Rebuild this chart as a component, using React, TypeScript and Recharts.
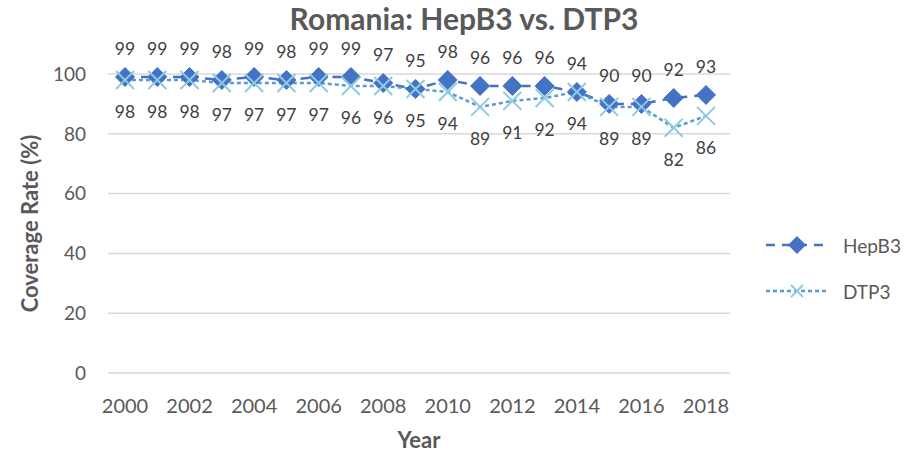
import React from "react";
import { LineChart, Line, XAxis, YAxis, CartesianGrid, LabelList, Label } from "recharts";

const years = ["2000","2001","2002","2003","2004","2005","2006","2007","2008","2009","2010","2011","2012","2013","2014","2015","2016","2017","2018"];
const hepB3 = [99,99,99,98,99,98,99,99,97,95,98,96,96,96,94,90,90,92,93];
const dtp3 = [98,98,98,97,97,97,97,96,96,95,94,89,91,92,94,89,89,82,86];
const yTicks = [0,20,40,60,80,100];

const data = years.map((y, i) => ({ year: y, HepB3: hepB3[i], DTP3: dtp3[i] }));

const FONT = "Lato, 'Open Sans', sans-serif";
const HEP = "#4472C4";
const DTP_LINE = "#5B9BD5";
const DTP_MARK = "#8CCBE0";

const Diamond = (props: any) => {
  const { cx, cy, index } = props;
  if (cx == null || cy == null) return <g key={`d${index}`} />;
  const r = 9.5;
  return (
    <polygon key={`d${index}`} points={`${cx},${cy - r} ${cx + r},${cy} ${cx},${cy + r} ${cx - r},${cy}`} fill={HEP} stroke={HEP} />
  );
};

const Cross = (props: any) => {
  const { cx, cy, index } = props;
  if (cx == null || cy == null) return <g key={`x${index}`} />;
  const r = 9;
  return (
    <g key={`x${index}`}>
      <line x1={cx - r} y1={cy - r} x2={cx + r} y2={cy + r} stroke={DTP_MARK} strokeWidth={2} />
      <line x1={cx - r} y1={cy + r} x2={cx + r} y2={cy - r} stroke={DTP_MARK} strokeWidth={2} />
    </g>
  );
};

const LegendBox = () => (
  <div style={{ position: "absolute", left: 764, top: 222, fontFamily: FONT, fontSize: 19, color: "#595959" }}>
    <div style={{ display: "flex", alignItems: "center", height: 46 }}>
      <svg width={66} height={22}>
        <line x1={2} y1={11} x2={64} y2={11} stroke={HEP} strokeWidth={2.5} strokeDasharray="9 7" />
        <polygon points="33,2 42,11 33,20 24,11" fill={HEP} />
      </svg>
      <span style={{ marginLeft: 13 }}>HepB3</span>
    </div>
    <div style={{ display: "flex", alignItems: "center", height: 46 }}>
      <svg width={66} height={22}>
        <line x1={2} y1={11} x2={64} y2={11} stroke={DTP_LINE} strokeWidth={2.5} strokeDasharray="4 3" />
        <line x1={27} y1={5} x2={39} y2={17} stroke={DTP_MARK} strokeWidth={2} />
        <line x1={27} y1={17} x2={39} y2={5} stroke={DTP_MARK} strokeWidth={2} />
      </svg>
      <span style={{ marginLeft: 13 }}>DTP3</span>
    </div>
  </div>
);

export default function App() {
  return (
    <div style={{ position: "absolute", left: 0, top: 0, width: 910, height: 455, background: "#fff" }}>
      <div style={{ position: "absolute", left: 0, top: 0, width: 928, textAlign: "center", fontFamily: FONT, fontWeight: 700, fontSize: 30, color: "#595959" }}>
        Romania: HepB3 vs. DTP3
      </div>
      <LineChart width={910} height={455} data={data} margin={{ top: 74, right: 180, bottom: 0, left: 0 }}>
        <CartesianGrid vertical={false} stroke="#D9D9D9" strokeWidth={1.5} />
        <XAxis
          dataKey="year"
          interval={1}
          axisLine={false}
          tickLine={false}
          padding={{ left: 17, right: 24 }}
          tick={{ fill: "#595959", fontSize: 20, fontFamily: FONT }}
          tickMargin={20}
          height={82}
        >
          <Label value="Year" position="insideBottom" offset={7} style={{ fill: "#595959", fontSize: 22, fontWeight: 700, fontFamily: FONT }} />
        </XAxis>
        <YAxis
          domain={[0, 100]}
          ticks={yTicks}
          axisLine={false}
          tickLine={false}
          width={108}
          tickMargin={16}
          tick={{ fill: "#595959", fontSize: 19, fontFamily: FONT }}
        >
          <Label value="Coverage Rate (%)" angle={-90} position="insideLeft" offset={30} style={{ fill: "#595959", fontSize: 22, fontWeight: 700, fontFamily: FONT, textAnchor: "middle" }} />
        </YAxis>
        <Line type="linear" dataKey="HepB3" stroke={HEP} strokeWidth={2.5} strokeDasharray="9 7" dot={<Diamond />} activeDot={false} isAnimationActive={false}>
          <LabelList dataKey="HepB3" position="top" offset={22} style={{ fill: "#404040", fontSize: 17.5, fontFamily: FONT }} />
        </Line>
        <Line type="linear" dataKey="DTP3" stroke={DTP_LINE} strokeWidth={2.5} strokeDasharray="4 3" dot={<Cross />} activeDot={false} isAnimationActive={false}>
          <LabelList dataKey="DTP3" position="bottom" offset={26} style={{ fill: "#404040", fontSize: 17.5, fontFamily: FONT }} />
        </Line>
      </LineChart>
      <LegendBox />
    </div>
  );
}
